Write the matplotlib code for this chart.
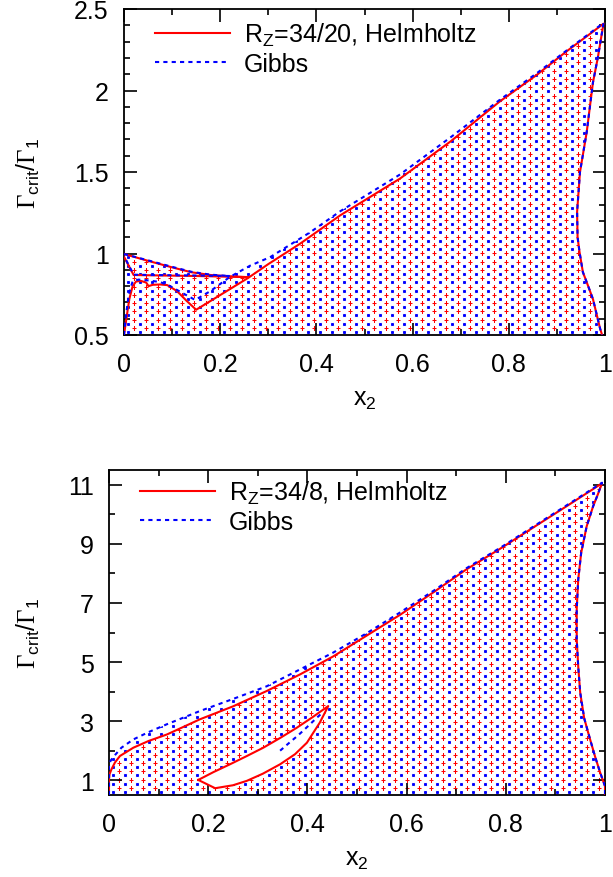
import numpy as np
import matplotlib
matplotlib.use("Agg")
import matplotlib.pyplot as plt
from matplotlib.patches import Polygon
from matplotlib.ticker import MultipleLocator, FuncFormatter

plt.rcParams['font.family'] = ['Liberation Sans', 'DejaVu Sans']
plt.rcParams['mathtext.fontset'] = 'custom'
plt.rcParams['mathtext.rm'] = 'Liberation Serif'
plt.rcParams['mathtext.sf'] = 'Liberation Sans'
plt.rcParams['mathtext.it'] = 'Liberation Sans:italic'

# ---- top panel, R_Z = 34/20 ----
# Helmholtz: lower branch from the axis up to the cusp
h20_low_x = [0.0, 0.005, 0.011, 0.018, 0.025, 0.035, 0.046, 0.051, 0.06, 0.075, 0.09, 0.11, 0.13, 0.15, 0.2, 0.258]
h20_low_y = [0.5, 0.6, 0.72, 0.80, 0.828, 0.832, 0.822, 0.80, 0.808, 0.81, 0.806, 0.77, 0.71, 0.655, 0.745, 0.85]
# upper edge of the small loop, and its lower (flat) edge
h20_up_x = [0.0, 0.05, 0.1, 0.14, 0.18, 0.22, 0.258]
h20_up_y = [0.997, 0.955, 0.915, 0.885, 0.868, 0.86, 0.855]
h20_mid_x = [0.258, 0.15, 0.06, 0.02, 0.0]
h20_mid_y = [0.855, 0.862, 0.866, 0.868, 0.98]
# main upper line + right boundary
h20_main_x = [0.258, 0.3, 0.366, 0.45, 0.574, 0.68, 0.78, 0.86, 0.92, 0.97, 0.997,
              0.994, 0.985, 0.975, 0.962, 0.948, 0.942, 0.943, 0.947, 0.954, 0.965, 0.975, 0.99, 0.994]
h20_main_y = [0.85, 0.935, 1.06, 1.235, 1.46, 1.69, 1.93, 2.10, 2.24, 2.35, 2.41,
              2.36, 2.2, 2.05, 1.745, 1.5, 1.255, 1.1, 1.01, 0.886, 0.80, 0.72, 0.537, 0.5]

# Gibbs
g20_low_x = [0.0, 0.004, 0.01, 0.018, 0.03, 0.05, 0.075, 0.096, 0.12, 0.148, 0.18, 0.22]
g20_low_y = [0.5, 0.62, 0.75, 0.83, 0.84, 0.835, 0.825, 0.80, 0.76, 0.715, 0.77, 0.856]
g20_up_x = [0.0, 0.05, 0.1, 0.14, 0.18, 0.22]
g20_up_y = [0.997, 0.958, 0.918, 0.888, 0.87, 0.862]
g20_mid_x = [0.22, 0.15, 0.06, 0.02, 0.0]
g20_mid_y = [0.862, 0.865, 0.868, 0.87, 0.985]
g20_main_x = [0.22, 0.262, 0.304, 0.387, 0.45, 0.574, 0.68, 0.78, 0.86, 0.92, 0.97, 0.997,
              0.994, 0.985, 0.975, 0.962, 0.948, 0.942, 0.943, 0.947, 0.954, 0.965, 0.975, 0.99, 0.994]
g20_main_y = [0.856, 0.925, 0.978, 1.13, 1.26, 1.485, 1.715, 1.94, 2.11, 2.245, 2.355, 2.415,
              2.36, 2.2, 2.05, 1.745, 1.5, 1.255, 1.1, 1.01, 0.886, 0.80, 0.72, 0.537, 0.5]

# ---- bottom panel, R_Z = 34/8 ----
h8_main_x = [0.0, 0.0, 0.001, 0.005, 0.012, 0.022, 0.049, 0.08, 0.117, 0.183, 0.25, 0.318, 0.385,
             0.452, 0.52, 0.587, 0.655, 0.72, 0.79, 0.855, 0.925, 0.994,
             0.985, 0.976, 0.963, 0.952, 0.946, 0.943, 0.943, 0.946, 0.95, 0.958, 0.97, 0.98, 0.99, 1.0, 1.0]
h8_main_y = [0.5, 1.03, 1.2, 1.37, 1.6, 1.82, 2.1, 2.33, 2.55, 3.06, 3.5, 4.02, 4.58,
             5.19, 5.9, 6.6, 7.37, 8.13, 8.85, 9.55, 10.3, 11.05,
             10.65, 10.27, 9.59, 8.7, 7.79, 6.8, 5.76, 4.85, 3.97, 3.1, 2.38, 1.8, 1.27, 0.8, 0.5]
h8_loop_x = [0.180, 0.214, 0.25, 0.278, 0.31, 0.345, 0.375, 0.399, 0.425, 0.442,
             0.41, 0.378, 0.345, 0.311, 0.278, 0.244, 0.21, 0.180]
h8_loop_y = [1.01, 0.73, 0.83, 0.98, 1.22, 1.54, 1.88, 2.27, 2.95, 3.51,
             3.13, 2.77, 2.43, 2.1, 1.82, 1.54, 1.27, 1.01]

g8_main_x = [0.0, 0.0, 0.004, 0.012, 0.025, 0.049, 0.08, 0.116, 0.183, 0.25, 0.318, 0.385,
             0.452, 0.52, 0.587, 0.655, 0.72, 0.79, 0.855, 0.925, 0.994,
             0.985, 0.976, 0.963, 0.952, 0.946, 0.943, 0.943, 0.946, 0.95, 0.958, 0.97, 0.98, 0.99, 1.0, 1.0]
g8_main_y = [0.5, 1.55, 1.68, 1.85, 2.1, 2.38, 2.63, 2.89, 3.34, 3.75, 4.18, 4.75,
             5.32, 5.98, 6.68, 7.42, 8.17, 8.88, 9.58, 10.33, 11.07,
             10.65, 10.27, 9.59, 8.7, 7.79, 6.8, 5.76, 4.85, 3.97, 3.1, 2.38, 1.8, 1.27, 0.8, 0.5]
g8_in_x = [0.345, 0.365, 0.38, 0.393, 0.405, 0.418, 0.428]
g8_in_y = [2.0, 2.29, 2.5, 2.7, 2.89, 3.1, 3.25]

RED = '#ff0000'
BLUE = '#0000ff'
W, H = 6.13, 8.78
DPI = 100
FS = 18

fig = plt.figure(figsize=(W, H), dpi=DPI)
ax1 = fig.add_axes([124 / 613, 542 / 878, 481 / 613, 326 / 878])
ax2 = fig.add_axes([109 / 613, 82 / 878, 496 / 613, 325 / 878])


def dots(ax, px, py, color, marker, ms, mew, off):
    # gnuplot-like dot pattern, clipped to the region
    pos = ax.get_position()
    wpx, hpx = pos.width * W * DPI, pos.height * H * DPI
    gx = np.arange(off[0], wpx, 12.0) / wpx
    gy = np.arange(off[1], hpx, 8.3) / hpx
    X, Y = np.meshgrid(gx, gy)
    ln, = ax.plot(X.ravel(), Y.ravel(), ls='none', marker=marker, ms=ms, mew=mew,
                  color=color, transform=ax.transAxes, zorder=1)
    patch = Polygon(np.column_stack([px, py]), closed=True, transform=ax.transData)
    ln.set_clip_path(patch)


def style(ax, ylim, ymaj, ymin):
    ax.set_xlim(0, 1)
    ax.set_ylim(*ylim)
    ax.xaxis.set_major_locator(MultipleLocator(0.2))
    ax.xaxis.set_minor_locator(MultipleLocator(0.1))
    ax.yaxis.set_major_locator(MultipleLocator(ymaj))
    ax.yaxis.set_minor_locator(MultipleLocator(ymin))
    fmt = FuncFormatter(lambda v, p: '%g' % round(v, 6))
    ax.xaxis.set_major_formatter(fmt)
    ax.yaxis.set_major_formatter(fmt)
    ax.tick_params(which='both', direction='in', top=True, right=True, labelsize=FS)
    ax.tick_params(axis='x', pad=12.5)
    ax.tick_params(axis='y', pad=11)
    ax.tick_params(which='major', length=9, width=1.2)
    ax.tick_params(which='minor', length=4.5, width=1.2)
    for s in ax.spines.values():
        s.set_linewidth(1.3)
    ax.set_xlabel(r'x$_\mathsf{2}$', fontsize=FS, labelpad=8)
    ax.set_ylabel(r'$\Gamma_\mathsf{crit}\mathsf{/}\Gamma_\mathsf{1}$', fontsize=FS)


# top panel
reg_h = ([0.0] + h20_up_x + h20_main_x[1:], [0.5] + h20_up_y + h20_main_y[1:])
reg_g = ([0.0] + g20_up_x + g20_main_x[1:], [0.5] + g20_up_y + g20_main_y[1:])
dots(ax1, *reg_g, BLUE, 'x', 1.7, 1.0, (4, 3))
dots(ax1, *reg_h, RED, '+', 2.4, 0.75, (10, 7))

kw_h = dict(color=RED, lw=1.5, zorder=3)
kw_g = dict(color=BLUE, lw=1.5, ls=(0, (2, 2)), zorder=4)
ax1.plot(h20_low_x + h20_main_x[1:], h20_low_y + h20_main_y[1:], label=r'R$_\mathsf{Z}$=34/20, Helmholtz', **kw_h)
ax1.plot(h20_up_x, h20_up_y, **kw_h)
ax1.plot(h20_mid_x, h20_mid_y, **kw_h)
ax1.plot(g20_low_x + g20_main_x[1:], g20_low_y + g20_main_y[1:], label='Gibbs', **kw_g)
ax1.plot(g20_up_x, g20_up_y, **kw_g)
ax1.plot(g20_mid_x, g20_mid_y, **kw_g)
style(ax1, (0.5, 2.5), 0.5, 0.1)
ax1.yaxis.set_label_coords(-0.17, 0.5)

# bottom panel
dots(ax2, g8_main_x, g8_main_y, BLUE, 'x', 1.7, 1.0, (4, 3))
dots(ax2, h8_main_x, h8_main_y, RED, '+', 2.4, 0.75, (10, 7))
ax2.fill(h8_loop_x, h8_loop_y, color='white', lw=0, zorder=2)
ax2.plot(h8_main_x, h8_main_y, label=r'R$_\mathsf{Z}$=34/8, Helmholtz', **kw_h)
ax2.plot(h8_loop_x, h8_loop_y, **kw_h)
ax2.plot(g8_main_x, g8_main_y, label='Gibbs', **kw_g)
ax2.plot(g8_in_x, g8_in_y, **kw_g)
style(ax2, (0.5, 11.5), 2, 1)
ax2.set_yticks([1, 3, 5, 7, 9, 11])
ax2.yaxis.set_label_coords(-0.135, 0.5)

for ax, bx, by in [(ax1, 0.064, 0.963), (ax2, 0.062, 0.973)]:
    ax.legend(loc='upper left', bbox_to_anchor=(bx, by), frameon=False, fontsize=FS,
              borderpad=0, borderaxespad=0, handlelength=3.0, handletextpad=0.55,
              labelspacing=0.15)

fig.savefig('out.png', dpi=DPI)
